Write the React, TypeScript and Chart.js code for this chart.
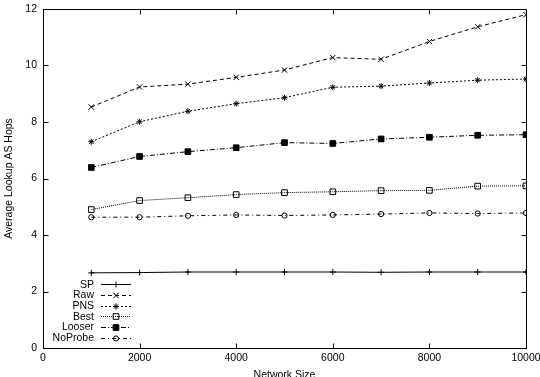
import React, { useEffect, useRef } from 'react';
import { Chart, registerables } from 'chart.js';

Chart.register(...registerables);

// ---- data ----
const networkSizes = [1000, 2000, 3000, 4000, 5000, 6000, 7000, 8000, 9000, 10000];
const spHops = [2.66, 2.67, 2.69, 2.69, 2.69, 2.69, 2.68, 2.69, 2.69, 2.69];
const rawHops = [8.53, 9.24, 9.34, 9.58, 9.84, 10.28, 10.22, 10.85, 11.37, 11.8];
const pnsHops = [7.3, 8.01, 8.38, 8.65, 8.86, 9.23, 9.27, 9.38, 9.48, 9.52];
const bestHops = [4.9, 5.22, 5.32, 5.43, 5.5, 5.53, 5.57, 5.58, 5.73, 5.74];
const looserHops = [6.39, 6.78, 6.95, 7.09, 7.27, 7.24, 7.4, 7.46, 7.53, 7.55];
const noProbeHops = [4.63, 4.63, 4.68, 4.71, 4.69, 4.71, 4.74, 4.78, 4.76, 4.78];
const seriesNames = ['SP', 'Raw', 'PNS', 'Best', 'Looser', 'NoProbe'];
const xTitle = 'Network Size';
const yTitle = 'Average Lookup AS Hops';
const xMin = 0;
const xMax = 10000;
const xStep = 2000;
const yMin = 0;
const yMax = 12;
const yStep = 2;

// ---- styles ----
const FONT = '"Liberation Sans", Arial, Helvetica, sans-serif';
const FONT_SIZE = 10.5;
const INK = '#000';

type Look = { dash: number[]; style: string; radius: number; filled: boolean };
const looks: Look[] = [
  { dash: [], style: 'cross', radius: 3, filled: false },
  { dash: [4, 3], style: 'crossRot', radius: 3.8, filled: false },
  { dash: [2, 2], style: 'star', radius: 3, filled: false },
  { dash: [1, 1], style: 'rect', radius: 4, filled: false },
  { dash: [5, 2, 1, 2], style: 'rect', radius: 4, filled: true },
  { dash: [4, 3, 1, 3], style: 'circle', radius: 2.6, filled: false },
];

function drawMarker(ctx: CanvasRenderingContext2D, look: Look, x: number, y: number) {
  const r = look.radius;
  ctx.save();
  ctx.setLineDash([]);
  ctx.lineWidth = 1;
  ctx.strokeStyle = INK;
  ctx.fillStyle = INK;
  ctx.beginPath();
  const d = r * Math.SQRT1_2;
  if (look.style === 'cross' || look.style === 'star') {
    ctx.moveTo(x, y - r);
    ctx.lineTo(x, y + r);
    ctx.moveTo(x - r, y);
    ctx.lineTo(x + r, y);
  }
  if (look.style === 'crossRot' || look.style === 'star') {
    const e = look.style === 'star' ? d : r * Math.SQRT1_2;
    ctx.moveTo(x - e, y - e);
    ctx.lineTo(x + e, y + e);
    ctx.moveTo(x - e, y + e);
    ctx.lineTo(x + e, y - e);
  }
  if (look.style === 'rect') {
    ctx.rect(x - d, y - d, 2 * d, 2 * d);
    if (look.filled) ctx.fill();
  }
  if (look.style === 'circle') {
    ctx.arc(x, y, r, 0, Math.PI * 2);
  }
  ctx.stroke();
  ctx.restore();
}

const framePlugin = {
  id: 'gnuFrame',
  afterDraw(chart: any) {
    const { ctx, chartArea: a, scales } = chart;
    const tick = 5;
    ctx.save();
    ctx.strokeStyle = INK;
    ctx.lineWidth = 1;
    ctx.setLineDash([]);
    const L = Math.round(a.left) + 0.5;
    const R = Math.round(a.right) + 0.5;
    const T = Math.round(a.top) + 0.5;
    const B = Math.round(a.bottom) + 0.5;
    ctx.beginPath();
    ctx.rect(L, T, R - L, B - T);
    scales.x.ticks.forEach((t: any) => {
      const px = Math.round(scales.x.getPixelForValue(t.value)) + 0.5;
      ctx.moveTo(px, B);
      ctx.lineTo(px, B - tick);
      ctx.moveTo(px, T);
      ctx.lineTo(px, T + tick);
    });
    scales.y.ticks.forEach((t: any) => {
      const py = Math.round(scales.y.getPixelForValue(t.value)) + 0.5;
      ctx.moveTo(L, py);
      ctx.lineTo(L + tick, py);
      ctx.moveTo(R, py);
      ctx.lineTo(R - tick, py);
    });
    ctx.stroke();

    // titles
    ctx.fillStyle = INK;
    ctx.font = `${FONT_SIZE}px ${FONT}`;
    ctx.textAlign = 'center';
    ctx.textBaseline = 'alphabetic';
    ctx.fillText(xTitle, (a.left + a.right) / 2, a.bottom + 30);
    ctx.save();
    ctx.translate(12.3, (a.top + a.bottom) / 2);
    ctx.rotate(-Math.PI / 2);
    ctx.fillText(yTitle, 0, 0);
    ctx.restore();

    // legend
    const textRight = a.left + 51;
    const x0 = a.left + 58;
    const x1 = a.left + 88;
    const mx = (x0 + x1) / 2;
    const rowH = 10.7;
    const firstRow = a.bottom - 63.7;
    ctx.textAlign = 'right';
    ctx.textBaseline = 'middle';
    chart.data.datasets.forEach((ds: any, i: number) => {
      const y = firstRow + i * rowH;
      ctx.fillText(ds.label, textRight, y + 0.5);
      ctx.save();
      ctx.beginPath();
      ctx.setLineDash(looks[i].dash);
      ctx.moveTo(x0, Math.round(y) + 0.5);
      ctx.lineTo(x1, Math.round(y) + 0.5);
      ctx.stroke();
      ctx.restore();
      drawMarker(ctx, looks[i], mx, Math.round(y) + 0.5);
    });
    ctx.restore();
  },
};

const seriesValues = [spHops, rawHops, pnsHops, bestHops, looserHops, noProbeHops];

export default function App() {
  const ref = useRef<HTMLCanvasElement | null>(null);
  useEffect(() => {
    document.body.style.margin = '0';
    if (!ref.current) return;
    const datasets = seriesValues.map((vals, i) => ({
      label: seriesNames[i],
      data: vals.map((v, j) => ({ x: networkSizes[j], y: v })),
      borderColor: INK,
      borderWidth: 1,
      borderDash: looks[i].dash,
      backgroundColor: looks[i].filled ? INK : 'rgba(0,0,0,0)',
      pointBorderColor: INK,
      pointBackgroundColor: looks[i].filled ? INK : 'rgba(0,0,0,0)',
      pointStyle: looks[i].style,
      pointRadius: looks[i].radius,
      pointBorderWidth: 1,
      tension: 0,
      fill: false,
    }));
    const tickFont = { family: FONT, size: FONT_SIZE };
    const chart = new Chart(ref.current, {
      type: 'line',
      data: { datasets },
      options: {
        animation: false,
        responsive: false,
        devicePixelRatio: 1,
        layout: { padding: { top: 9, right: 14, left: 0, bottom: 0 } },
        plugins: { legend: { display: false }, tooltip: { enabled: false } },
        elements: { line: { borderCapStyle: 'butt' } },
        scales: {
          x: {
            type: 'linear',
            min: xMin,
            max: xMax,
            grid: { display: false, drawTicks: false },
            border: { display: false },
            ticks: {
              stepSize: xStep,
              autoSkip: false,
              maxRotation: 0,
              padding: 4,
              color: INK,
              font: tickFont,
              callback: (v: any) => String(v),
            },
            afterFit: (s: any) => {
              s.height = 29;
              s.paddingLeft = 0;
              s.paddingRight = 0;
            },
          },
          y: {
            type: 'linear',
            min: yMin,
            max: yMax,
            grid: { display: false, drawTicks: false },
            border: { display: false },
            ticks: {
              stepSize: yStep,
              padding: 6,
              color: INK,
              font: tickFont,
              callback: (v: any) => String(v),
            },
            afterFit: (s: any) => {
              s.width = 43;
              s.paddingTop = 0;
              s.paddingBottom = 0;
            },
          },
        },
      } as any,
      plugins: [framePlugin],
    });
    return () => chart.destroy();
  }, []);
  return (
    <div style={{ width: 540, height: 377 }}>
      <canvas ref={ref} width={540} height={377} style={{ display: 'block' }} />
    </div>
  );
}
